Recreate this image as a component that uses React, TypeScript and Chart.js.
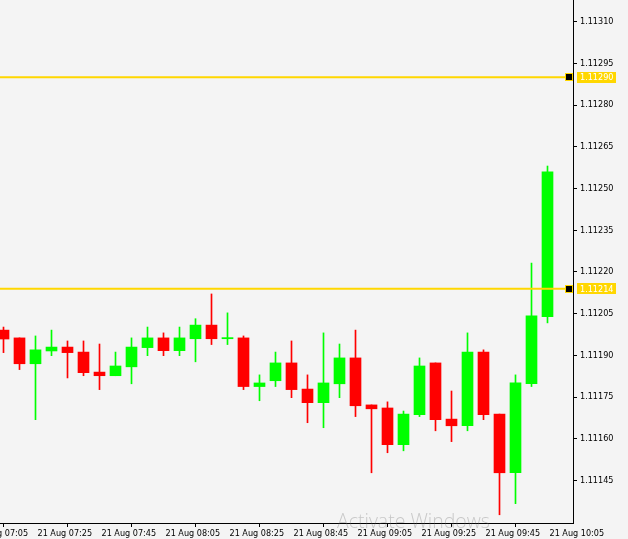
import React, { useEffect, useRef } from 'react';
import { Chart, registerables } from 'chart.js';

Chart.register(...registerables);

// 5-minute candles, 21 Aug
const times = [
  '07:15', '07:20', '07:25', '07:30', '07:35', '07:40', '07:45', '07:50', '07:55', '08:00',
  '08:05', '08:10', '08:15', '08:20', '08:25', '08:30', '08:35', '08:40', '08:45', '08:50',
  '08:55', '09:00', '09:05', '09:10', '09:15', '09:20', '09:25', '09:30', '09:35', '09:40',
  '09:45', '09:50', '09:55', '10:00', '10:05',
];
const opens = [
  1.111991, 1.111963, 1.111870, 1.111916, 1.111930, 1.111912, 1.111840, 1.111827, 1.111859, 1.111928,
  1.111963, 1.111917, 1.111960, 1.112009, 1.111960, 1.111963, 1.111788, 1.111809, 1.111873, 1.111779,
  1.111730, 1.111798, 1.111891, 1.111722, 1.111711, 1.111579, 1.111687, 1.111873, 1.111671, 1.111647,
  1.111912, 1.111689, 1.111478, 1.111798, 1.112039,
];
const highs = [
  1.112002, 1.111963, 1.111970, 1.111991, 1.111952, 1.111952, 1.111941, 1.111912, 1.111963, 1.112002,
  1.111981, 1.112002, 1.112032, 1.112121, 1.112053, 1.111970, 1.111830, 1.111912, 1.111952, 1.111830,
  1.111981, 1.111941, 1.111991, 1.111722, 1.111733, 1.111700, 1.111891, 1.111873, 1.111772, 1.111981,
  1.111920, 1.111689, 1.111830, 1.112232, 1.112581,
];
const lows = [
  1.111910, 1.111849, 1.111669, 1.111899, 1.111819, 1.111827, 1.111777, 1.111827, 1.111798, 1.111899,
  1.111899, 1.111899, 1.111877, 1.111939, 1.111939, 1.111777, 1.111737, 1.111788, 1.111748, 1.111658,
  1.111640, 1.111748, 1.111680, 1.111478, 1.111550, 1.111557, 1.111680, 1.111629, 1.111590, 1.111629,
  1.111669, 1.111327, 1.111367, 1.111788, 1.112017,
];
const closes = [
  1.111959, 1.111870, 1.111920, 1.111930, 1.111910, 1.111838, 1.111827, 1.111862, 1.111930, 1.111963,
  1.111917, 1.111963, 1.112009, 1.111960, 1.111964, 1.111788, 1.111801, 1.111873, 1.111777, 1.111730,
  1.111801, 1.111891, 1.111719, 1.111708, 1.111579, 1.111689, 1.111862, 1.111669, 1.111647, 1.111912,
  1.111687, 1.111478, 1.111801, 1.112042, 1.112560,
];

const yTickValues = [
  1.11145, 1.1116, 1.11175, 1.1119, 1.11205, 1.1122,
  1.11235, 1.1125, 1.11265, 1.1128, 1.11295, 1.1131,
];
const xTickTimes = ['07:05', '07:25', '07:45', '08:05', '08:25', '08:45', '09:05', '09:25', '09:45', '10:05'];
const xTickLabels = xTickTimes.map((t) => '21 Aug ' + t);
const levels = [1.1129, 1.11214];

const toMin = (t: string) => {
  const [h, m] = t.split(':').map(Number);
  return h * 60 + m;
};
const idxOf = (t: string) => (toMin(t) - toMin(times[0])) / 5;

const X_MIN = -0.21875;
const X_MAX = X_MIN + 573 / 16;
const Y_MIN = 1.1112974;
const Y_MAX = 1.113178;

const GOLD = '#FFD700';
const UP = '#00FF00';
const DOWN = '#FF0000';
const FONT_FAMILY = '"DejaVu Sans Condensed", "DejaVu Sans", sans-serif';
const FONT_SIZE = 9;

const overlay = {
  id: 'overlay',
  beforeDraw(chart: any) {
    const { ctx, width, height } = chart;
    ctx.save();
    ctx.fillStyle = '#F4F4F4';
    ctx.fillRect(0, 0, width, height);
    ctx.restore();
  },
  afterDraw(chart: any) {
    const { ctx, chartArea } = chart;
    const ys = chart.scales.y;
    ctx.save();
    levels.forEach((lvl) => {
      const yc = ys.getPixelForValue(lvl);
      const mx = Math.round(chartArea.right) - 8;
      const my = Math.round(yc - 4);
      ctx.fillStyle = GOLD;
      ctx.fillRect(mx, my, 8, 8);
      ctx.fillStyle = '#000';
      ctx.fillRect(mx + 1, my + 1, 6, 6);
      // axis price label
      const bx = Math.round(chartArea.right) + 4;
      ctx.fillStyle = GOLD;
      ctx.fillRect(bx, Math.round(yc - 5.5), 39, 11);
      ctx.fillStyle = '#FFFFFF';
      ctx.font = `${FONT_SIZE}px ${FONT_FAMILY}`;
      ctx.textBaseline = 'middle';
      ctx.textAlign = 'left';
      ctx.fillText(lvl.toFixed(5), bx + 3, yc + 0.5);
    });
    // watermark
    const txt = 'Activate Windows';
    ctx.font = '300 20px "Open Sans", "Noto Sans", sans-serif';
    const w = ctx.measureText(txt).width;
    const size = (20 * 153) / w;
    ctx.font = `300 ${size}px "Open Sans", "Noto Sans", sans-serif`;
    ctx.fillStyle = 'rgba(110,110,110,0.32)';
    ctx.textBaseline = 'alphabetic';
    ctx.textAlign = 'left';
    ctx.fillText(txt, 337, 528);
    ctx.restore();
  },
};

export default function App() {
  const ref = useRef<HTMLCanvasElement>(null);

  useEffect(() => {
    document.body.style.margin = '0';
    const colors = times.map((_, i) => (closes[i] >= opens[i] ? UP : DOWN));
    const font = { family: FONT_FAMILY, size: FONT_SIZE };
    const chart = new Chart(ref.current as HTMLCanvasElement, {
      type: 'bar',
      data: {
        datasets: [
          ...levels.map((lvl) => ({
            type: 'line' as const,
            data: [
              { x: X_MIN, y: lvl },
              { x: X_MAX, y: lvl },
            ],
            borderColor: GOLD,
            borderWidth: 2,
            pointRadius: 0,
            order: 0,
          })),
          {
            type: 'bar' as const,
            data: times.map((t, i) => ({ x: idxOf(t), y: [opens[i], closes[i]] })),
            backgroundColor: colors,
            borderWidth: 0,
            barThickness: 11,
            grouped: false,
            order: 1,
          },
          {
            type: 'bar' as const,
            data: times.map((t, i) => ({ x: idxOf(t), y: [lows[i], highs[i]] })),
            backgroundColor: colors,
            borderWidth: 0,
            barThickness: 1,
            grouped: false,
            order: 2,
          },
        ] as any,
      },
      options: {
        animation: false,
        responsive: false,
        devicePixelRatio: 1,
        layout: { padding: 0 },
        plugins: { legend: { display: false }, tooltip: { enabled: false } },
        scales: {
          x: {
            type: 'linear',
            min: X_MIN,
            max: X_MAX,
            offset: false,
            afterBuildTicks: (s: any) => {
              s.ticks = xTickTimes.map((t) => ({ value: idxOf(t) }));
            },
            afterFit: (s: any) => {
              s.height = 16;
              s.paddingLeft = 0;
              s.paddingRight = 0;
            },
            ticks: {
              callback: (_v: any, i: number) => xTickLabels[i],
              align: 'start',
              labelOffset: 2,
              maxRotation: 0,
              minRotation: 0,
              autoSkip: false,
              padding: 1,
              color: '#000',
              font,
            },
            grid: { drawOnChartArea: false, drawTicks: true, tickLength: 4, color: '#000' },
            border: { display: true, color: '#000', width: 1 },
          },
          y: {
            type: 'linear',
            position: 'right',
            min: Y_MIN,
            max: Y_MAX,
            afterBuildTicks: (s: any) => {
              s.ticks = yTickValues.map((v) => ({ value: v }));
            },
            afterFit: (s: any) => {
              s.width = 55;
              s.paddingTop = 0;
              s.paddingBottom = 0;
            },
            ticks: {
              callback: (v: any) => Number(v).toFixed(5),
              autoSkip: false,
              padding: 3,
              color: '#000',
              font,
            },
            grid: { drawOnChartArea: false, drawTicks: true, tickLength: 4, color: '#000' },
            border: { display: true, color: '#000', width: 1 },
          },
        } as any,
      },
      plugins: [overlay],
    });
    return () => chart.destroy();
  }, []);

  return (
    <div style={{ width: 628, height: 539 }}>
      <canvas ref={ref} width={628} height={539} style={{ display: 'block' }} />
    </div>
  );
}
